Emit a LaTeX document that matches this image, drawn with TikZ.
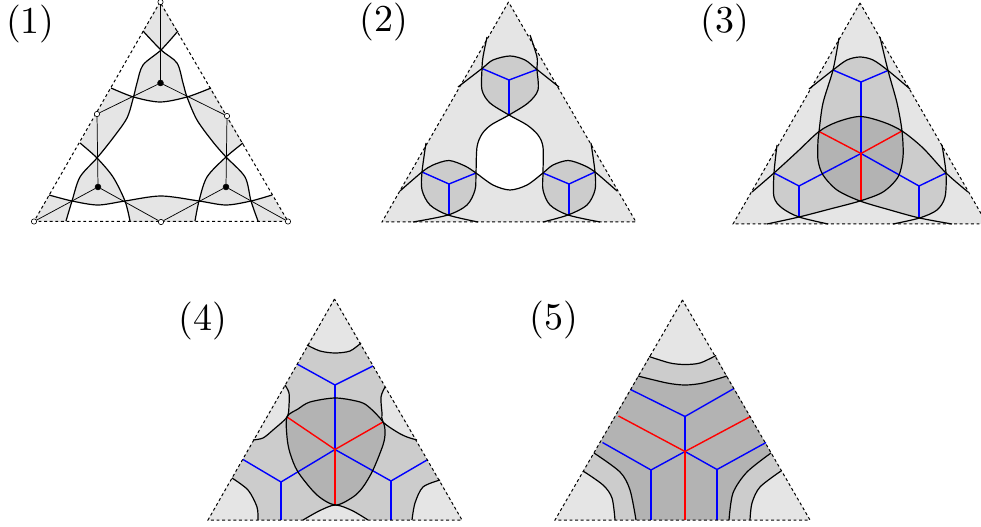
\documentclass[tikz,border=0pt]{standalone}
\usepackage{tikz}
\usetikzlibrary{positioning}
\definecolor{lightShade}{HTML}{E5E5E5}
\definecolor{midShade}{HTML}{CCCCCC}
\definecolor{darkShade}{HTML}{B3B3B3}
\definecolor{wallBlue}{HTML}{0000FF}
\definecolor{wallRed}{HTML}{FF0000}
\tikzset{
  tag/.style={scale=2.85, transform shape, inner sep=0pt},
  rim/.style={black, line width=0.75pt, dash pattern=on 2.2pt off 2pt},
  curve/.style={black, line width=0.9pt},
  thinedge/.style={black, line width=0.55pt},
  blueedge/.style={wallBlue, line width=1.05pt},
  rededge/.style={wallRed, line width=1.05pt},
  opendot/.style={circle, draw=black, fill=white, line width=0.45pt, inner sep=0pt, minimum size=4pt},
  fulldot/.style={circle, draw=black, fill=black, inner sep=0pt, minimum size=4.4pt}
}
\begin{document}
\begin{tikzpicture}[x=0.75pt, y=-0.75pt]
  \useasboundingbox (0,0) rectangle (981,527);
  \node[tag] (label1) at (30.5,24.5) {(1)};
  \node[tag] (label2) at (383.5,22) {(2)};
  \node[tag] (label3) at (725,23) {(3)};
  \node[tag] (label4) at (202.5,320.5) {(4)};
  \node[tag] (label5) at (554,320) {(5)};

  \fill[lightShade] (160,2) -- (143,31) -- (161,50) -- (178,31) -- cycle;
  \fill[lightShade] plot[smooth] coordinates {(161,50) (143,65) (137,83) (133.5,97)} -- plot[smooth] coordinates {(133.5,97) (160,102) (187,97)} -- plot[smooth] coordinates {(187,97) (183,83) (177,63) (161,50)} -- cycle;
  \fill[lightShade] (111,88) -- plot[smooth] coordinates {(133.5,97) (127,118) (113,138) (97,158)} -- (80,143) -- cycle;
  \fill[lightShade] (211,88) -- plot[smooth] coordinates {(187,97) (197,120) (213,142) (226,157)} -- (243,143) -- cycle;
  \fill[lightShade] plot[smooth] coordinates {(97,158) (80,177) (72,201)} -- plot[smooth] coordinates {(72,201) (98,205) (125,201)} -- plot[smooth] coordinates {(125,201) (113,177) (97,158)} -- cycle;
  \fill[lightShade] plot[smooth] coordinates {(226,157) (207,177) (199,201)} -- plot[smooth] coordinates {(199,201) (226,205) (251,201)} -- plot[smooth] coordinates {(251,201) (245,177) (226,157)} -- cycle;
  \fill[lightShade] plot[smooth] coordinates {(125,201) (161,196) (199,201)} -- (195,222) -- (130,222) -- cycle;
  \fill[lightShade] (34,221) -- (49,195) -- (72,201) -- (66,222) -- cycle;
  \fill[lightShade] (288,221) -- (272,195) -- (251,201) -- (258,222) -- cycle;
  \draw[curve] plot[smooth] coordinates {(143,31) (161,50) (177,63) (183,83) (187,97) (197,120) (213,142) (226,157) (245,177) (251,201) (258,221)};
  \draw[curve] plot[smooth] coordinates {(178,31) (161,50) (143,65) (137,83) (133.5,97) (127,118) (113,138) (97,158) (80,177) (72,201) (66,221)};
  \draw[curve] plot[smooth] coordinates {(80,143) (97,158) (113,177) (125,201) (130,221)};
  \draw[curve] plot[smooth] coordinates {(243,143) (226,157) (207,177) (199,201) (195,221)};
  \draw[curve] plot[smooth] coordinates {(111,88) (133.5,97) (160,102) (187,97) (211,88)};
  \draw[curve] plot[smooth] coordinates {(49,195) (72,201) (98,205) (125,201) (161,196) (199,201) (226,205) (251,201) (272,195)};
  \draw[rim] (160,2) -- (34,221.5) -- (288,221.5) -- cycle;
  \node[opendot] (apex) at (160.5,2) {};
  \node[opendot] (sideL) at (97,114) {};
  \node[opendot] (sideR) at (227,116) {};
  \node[opendot] (cornerL) at (34,221.5) {};
  \node[opendot] (baseM) at (161,222) {};
  \node[opendot] (cornerR) at (288,221.5) {};
  \node[fulldot] (dotT) at (160.5,83) {};
  \node[fulldot] (dotL) at (98,187) {};
  \node[fulldot] (dotR) at (226,187) {};
  \draw[thinedge] (apex) -- (dotT);
  \draw[thinedge] (dotT) -- (sideL);
  \draw[thinedge] (dotT) -- (sideR);
  \draw[thinedge] (sideL) -- (dotL);
  \draw[thinedge] (sideR) -- (dotR);
  \draw[thinedge] (dotL) -- (cornerL);
  \draw[thinedge] (dotL) -- (baseM);
  \draw[thinedge] (dotR) -- (baseM);
  \draw[thinedge] (dotR) -- (cornerR);

  \fill[lightShade] (508.5,2) -- (382,222) -- (636,222) -- cycle;
  \fill[white] plot[smooth] coordinates {(509,115) (491,125) (482,134) (477,147) (476,173)} -- plot[smooth] coordinates {(476,173) (493,185) (510,190) (527,185) (543,173)} -- plot[smooth] coordinates {(543,173) (543,147) (538,135) (527,125) (509,115)} -- cycle;
  \fill[midShade] plot[smooth] coordinates {(482,68.5) (493,60) (510,56) (525,60) (537,69.5)} -- plot[smooth] coordinates {(537,69.5) (538,90) (528,103) (509,115)} -- plot[smooth] coordinates {(509,115) (490,103) (482,90) (482,68.5)} -- cycle;
  \fill[midShade] plot[smooth] coordinates {(422,172) (433,165) (449,160.5) (465,166) (476,173)} -- plot[smooth] coordinates {(476,173) (475,190) (467,205) (448,215)} -- plot[smooth] coordinates {(448,215) (430,205) (422,190) (422,172)} -- cycle;
  \fill[midShade] plot[smooth] coordinates {(543,173) (553,165) (568,160.5) (583,165) (595,172)} -- plot[smooth] coordinates {(595,172) (595,190) (587,205) (568,215)} -- plot[smooth] coordinates {(568,215) (550,205) (543,190) (543,173)} -- cycle;
  \coordinate (v2a) at (509,80);
  \coordinate (v2b) at (449,184);
  \coordinate (v2c) at (569,184);
  \coordinate (e2a) at (482,68.5);
  \coordinate (e2b) at (537,69.5);
  \coordinate (e2c) at (509,115);
  \coordinate (e2d) at (422,172);
  \coordinate (e2e) at (476,173);
  \coordinate (e2f) at (449,215);
  \coordinate (e2g) at (543,173);
  \coordinate (e2h) at (595,172);
  \coordinate (e2i) at (569,215);
  \draw[blueedge] (v2a) -- (e2a);
  \draw[blueedge] (v2a) -- (e2b);
  \draw[blueedge] (v2a) -- (e2c);
  \draw[blueedge] (v2b) -- (e2d);
  \draw[blueedge] (v2b) -- (e2e);
  \draw[blueedge] (v2b) -- (e2f);
  \draw[blueedge] (v2c) -- (e2g);
  \draw[blueedge] (v2c) -- (e2h);
  \draw[blueedge] (v2c) -- (e2i);
  \draw[curve] plot[smooth] coordinates {(458,87) (482,68.5) (493,60) (510,56) (525,60) (537,69.5) (559,87)};
  \draw[curve] plot[smooth] coordinates {(400,191) (422,172) (433,165) (449,160.5) (465,166) (476,173) (493,185) (510,190) (527,185) (543,173) (553,165) (568,160.5) (583,165) (595,172) (617,191)};
  \draw[curve] plot[smooth] coordinates {(487,37) (483,57) (482,68.5) (482,90) (490,103) (509,115) (527,125) (538,135) (543,147) (543,173) (543,190) (550,205) (568,215) (600,222)};
  \draw[curve] plot[smooth] coordinates {(530,35) (537,57) (537,69.5) (538,90) (528,103) (509,115) (491,125) (482,134) (477,147) (476,173) (475,190) (467,205) (448,215) (413,222)};
  \draw[curve] plot[smooth] coordinates {(426,143) (422,172) (422,190) (430,205) (448,215) (478,222)};
  \draw[curve] plot[smooth] coordinates {(591,143) (595,172) (595,190) (587,205) (568,215) (543,222)};
  \draw[rim] (508.5,2) -- (382,222) -- (636,222) -- cycle;

  \fill[lightShade] (860,3) -- (733,224) -- (987,224) -- cycle;
  \fill[midShade] plot[smooth] coordinates {(833,70) (847,60) (860,57) (873,60) (888,70.5)} -- plot[smooth] coordinates {(888,70.5) (897,103) (902,131)} -- plot[smooth] coordinates {(902,131) (923,148) (946,173)} -- plot[smooth] coordinates {(946,173) (945,197) (937,210) (919.5,218)} -- (860,201) -- (799,217) -- plot[smooth] coordinates {(799,217) (782,208) (774,197) (774,173)} -- plot[smooth] coordinates {(774,173) (797,152) (819,131.5)} -- plot[smooth] coordinates {(819,131.5) (823,103) (833,70)} -- cycle;
  \fill[darkShade] plot[smooth] coordinates {(819,131.5) (837,122) (860,116.5) (883,122) (902,131)} -- plot[smooth] coordinates {(902,131) (903,157) (898,177) (883,192) (860,201)} -- plot[smooth] coordinates {(860,201) (837,190) (823,175) (818,160) (818,140) (819,131.5)} -- cycle;
  \coordinate (c3) at (861,153.5);
  \coordinate (v3a) at (861,82);
  \coordinate (v3b) at (799,186);
  \coordinate (v3c) at (919,186);
  \coordinate (e3a) at (833,70);
  \coordinate (e3b) at (888,70.5);
  \coordinate (e3c) at (774,173);
  \coordinate (e3d) at (799,217);
  \coordinate (e3e) at (946,173);
  \coordinate (e3f) at (919,218);
  \coordinate (r3a) at (819,131.5);
  \coordinate (r3b) at (902,131);
  \coordinate (r3c) at (861,201);
  \draw[blueedge] (v3a) -- (e3a);
  \draw[blueedge] (v3a) -- (e3b);
  \draw[blueedge] (v3a) -- (c3);
  \draw[blueedge] (v3b) -- (e3c);
  \draw[blueedge] (v3b) -- (e3d);
  \draw[blueedge] (v3b) -- (c3);
  \draw[blueedge] (v3c) -- (e3e);
  \draw[blueedge] (v3c) -- (e3f);
  \draw[blueedge] (v3c) -- (c3);
  \draw[rededge] (c3) -- (r3a);
  \draw[rededge] (c3) -- (r3b);
  \draw[rededge] (c3) -- (r3c);
  \draw[curve] plot[smooth] coordinates {(809,89) (833,70) (847,60) (860,57) (873,60) (888,70.5) (910,89)};
  \draw[curve] plot[smooth] coordinates {(752,192) (774,173) (797,152) (819,131.5) (837,122) (860,116.5) (883,122) (902,131) (923,148) (946,173) (968,192)};
  \draw[curve] plot[smooth] coordinates {(839,38) (833,70) (823,103) (819,131.5) (818,140) (818,160) (823,175) (837,190) (860,201) (890,210) (919.5,218) (952,224)};
  \draw[curve] plot[smooth] coordinates {(880,37) (888,70.5) (897,103) (902,131) (903,157) (898,177) (883,192) (860,201) (830,209) (799,217) (767,224)};
  \draw[curve] plot[smooth] coordinates {(777,145) (774,173) (774,197) (782,208) (799,217) (828,224)};
  \draw[curve] plot[smooth] coordinates {(942,145) (946,173) (945,197) (937,210) (919.5,218) (893,224)};
  \draw[rim] (860,3) -- (733,224) -- (987,224) -- cycle;

  \fill[midShade] (334.5,299) -- (208,520) -- (462,520) -- cycle;
  \fill[lightShade] (334.5,299) -- plot[smooth] coordinates {(307,345) (320,351) (335,353) (350,351) (361,343)} -- cycle;
  \fill[lightShade] plot[smooth] coordinates {(285,385) (289,393) (289,405) (287,417) (273,430) (263,438) (253,440)} -- cycle;
  \fill[lightShade] plot[smooth] coordinates {(385,387) (381,397) (382,413) (383,422) (397,432) (407,437) (417,440)} -- cycle;
  \fill[lightShade] (208,520) -- plot[smooth] coordinates {(232,478) (248,490) (257,507) (258,520)} -- cycle;
  \fill[lightShade] (462,520) -- plot[smooth] coordinates {(440,480) (423,487) (415,503) (412,520)} -- cycle;
  \fill[lightShade] plot[smooth] coordinates {(303,520) (320,510.5) (335.5,505) (352,510.5) (368,520)} -- cycle;
  \fill[darkShade] plot[smooth cycle] coordinates {(287,417) (298,409) (310,402) (335.5,398) (360,402) (370,408) (383,422) (385,433) (383,445) (373,470) (363,487) (353,497) (335.5,505) (317,495) (298,472) (290,453) (287,437)};
  \coordinate (c4) at (335,449.5);
  \coordinate (v4a) at (335,385);
  \coordinate (v4b) at (281,482);
  \coordinate (v4c) at (391,481);
  \coordinate (e4a) at (297,364);
  \coordinate (e4b) at (373,366);
  \coordinate (e4c) at (243,459.5);
  \coordinate (e4d) at (281,520);
  \coordinate (e4e) at (427,460);
  \coordinate (e4f) at (391,520);
  \coordinate (r4a) at (287,417);
  \coordinate (r4b) at (383,422);
  \coordinate (r4c) at (335,505);
  \draw[blueedge] (v4a) -- (e4a);
  \draw[blueedge] (v4a) -- (e4b);
  \draw[blueedge] (v4a) -- (c4);
  \draw[blueedge] (v4b) -- (e4c);
  \draw[blueedge] (v4b) -- (e4d);
  \draw[blueedge] (v4b) -- (c4);
  \draw[blueedge] (v4c) -- (e4e);
  \draw[blueedge] (v4c) -- (e4f);
  \draw[blueedge] (v4c) -- (c4);
  \draw[rededge] (c4) -- (r4a);
  \draw[rededge] (c4) -- (r4b);
  \draw[rededge] (c4) -- (r4c);
  \draw[curve] plot[smooth] coordinates {(307,345) (320,351) (335,353) (350,351) (361,343)};
  \draw[curve] plot[smooth] coordinates {(285,385) (289,393) (289,405) (287,417) (273,430) (263,438) (253,440)};
  \draw[curve] plot[smooth] coordinates {(385,387) (381,397) (382,413) (383,422) (397,432) (407,437) (417,440)};
  \draw[curve] plot[smooth] coordinates {(232,478) (248,490) (257,507) (258,520)};
  \draw[curve] plot[smooth] coordinates {(440,480) (423,487) (415,503) (412,520)};
  \draw[curve] plot[smooth] coordinates {(303,520) (320,510.5) (335.5,505) (352,510.5) (368,520)};
  \draw[curve] plot[smooth cycle] coordinates {(287,417) (298,409) (310,402) (335.5,398) (360,402) (370,408) (383,422) (385,433) (383,445) (373,470) (363,487) (353,497) (335.5,505) (317,495) (298,472) (290,453) (287,437)};
  \draw[rim] (334.5,299) -- (208,520) -- (462,520) -- cycle;

  \fill[lightShade] (682.5,300) -- (555,520) -- (810,520) -- cycle;
  \fill[midShade] plot[smooth] coordinates {(649,356.5) (670,363) (685,364.5) (700,363) (716,355.5)} -- (727,376) -- plot[smooth] coordinates {(727,376) (703,383) (685,385) (667,383) (638,376)} -- cycle;
  \fill[midShade] plot[smooth] coordinates {(583,471) (603,485) (612,498) (615,520)} -- (636,520) -- plot[smooth] coordinates {(636,520) (630,490) (620,472) (594,453)} -- cycle;
  \fill[midShade] plot[smooth] coordinates {(781,471) (760,487) (752,503) (750,520)} -- (729,520) -- plot[smooth] coordinates {(729,520) (733,493) (747,472) (771,453)} -- cycle;
  \fill[darkShade] plot[smooth] coordinates {(638,376) (667,383) (685,385) (703,383) (727,376)} -- (771,453) -- plot[smooth] coordinates {(771,453) (747,472) (733,493) (729,520)} -- (636,520) -- plot[smooth] coordinates {(636,520) (630,490) (620,472) (594,453)} -- cycle;
  \coordinate (c5) at (685,451.5);
  \coordinate (v5a) at (685,416.5);
  \coordinate (v5b) at (651,470);
  \coordinate (v5c) at (717,469.5);
  \coordinate (e5a) at (630.5,389.5);
  \coordinate (e5b) at (734,388.5);
  \coordinate (e5c) at (602.5,442.5);
  \coordinate (e5d) at (651,520);
  \coordinate (e5e) at (766,442.5);
  \coordinate (e5f) at (717,520);
  \coordinate (r5a) at (618.5,416);
  \coordinate (r5b) at (750.5,416.5);
  \coordinate (r5c) at (685,520);
  \draw[blueedge] (v5a) -- (e5a);
  \draw[blueedge] (v5a) -- (e5b);
  \draw[blueedge] (v5a) -- (c5);
  \draw[blueedge] (v5b) -- (e5c);
  \draw[blueedge] (v5b) -- (e5d);
  \draw[blueedge] (v5b) -- (c5);
  \draw[blueedge] (v5c) -- (e5e);
  \draw[blueedge] (v5c) -- (e5f);
  \draw[blueedge] (v5c) -- (c5);
  \draw[rededge] (c5) -- (r5a);
  \draw[rededge] (c5) -- (r5b);
  \draw[rededge] (c5) -- (r5c);
  \draw[curve] plot[smooth] coordinates {(649,356.5) (670,363) (685,364.5) (700,363) (716,355.5)};
  \draw[curve] plot[smooth] coordinates {(638,376) (667,383) (685,385) (703,383) (727,376)};
  \draw[curve] plot[smooth] coordinates {(583,471) (603,485) (612,498) (615,520)};
  \draw[curve] plot[smooth] coordinates {(594,453) (620,472) (630,490) (636,520)};
  \draw[curve] plot[smooth] coordinates {(781,471) (760,487) (752,503) (750,520)};
  \draw[curve] plot[smooth] coordinates {(771,453) (747,472) (733,493) (729,520)};
  \draw[rim] (682.5,300) -- (555,520) -- (810,520) -- cycle;
\end{tikzpicture}
\end{document}
